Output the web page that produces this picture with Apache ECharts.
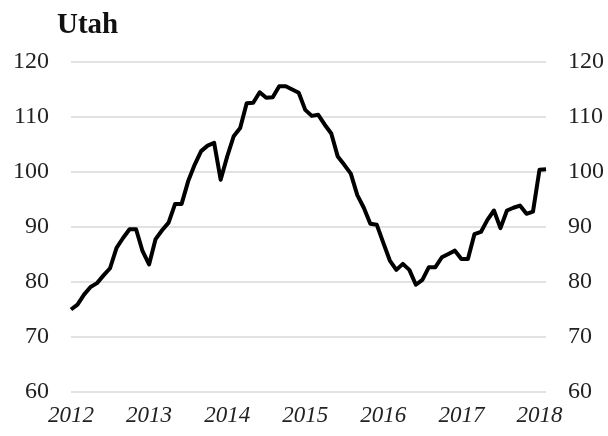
<!DOCTYPE html>
<html>
<head>
<meta charset="utf-8">
<script src="https://cdn.jsdelivr.net/npm/echarts@6/dist/echarts.min.js"></script>
<style>
  html, body { margin: 0; padding: 0; background: #fff; }
  #chart { width: 608px; height: 436px; }
</style>
</head>
<body>
<div id="chart"></div>
<script>
// monthly index, Jan 2012 .. Feb 2018
var months = [];
for (var y = 2012; y <= 2018; y++) {
  for (var m = 1; m <= 12; m++) {
    if (y === 2018 && m > 2) break;
    months.push(y + '-' + (m < 10 ? '0' + m : m));
  }
}
var values = [
  75.0, 75.9, 77.7, 79.1, 79.8, 81.2, 82.5, 86.2, 88.0, 89.6, 89.6, 85.6,
  83.2, 87.8, 89.4, 90.8, 94.2, 94.2, 98.3, 101.3, 103.8, 104.8, 105.3, 98.6,
  102.8, 106.5, 108.0, 112.5, 112.6, 114.5, 113.5, 113.6, 115.6, 115.6, 115.0, 114.4,
  111.3, 110.2, 110.4, 108.6, 107.0, 102.8, 101.3, 99.7, 95.8, 93.5, 90.6, 90.4,
  87.1, 83.9, 82.2, 83.3, 82.2, 79.5, 80.4, 82.7, 82.7, 84.5, 85.1, 85.7,
  84.2, 84.2, 88.7, 89.1, 91.3, 93.0, 89.8, 93.0, 93.5, 93.9, 92.4, 92.8,
  100.4, 100.5
];
var yTicks = [60, 70, 80, 90, 100, 110, 120];

(function () {
  var font = '"Liberation Serif", "DejaVu Serif", serif';
  var ink = '#222';
  var chart = echarts.init(document.getElementById('chart'), null, { renderer: 'canvas' });

  function yAxis(pos) {
    return {
      type: 'value',
      position: pos,
      min: yTicks[0],
      max: yTicks[yTicks.length - 1],
      interval: 10,
      axisLine: { show: false },
      axisTick: { show: false },
      axisLabel: { color: ink, fontFamily: font, fontSize: 24, margin: 22 },
      splitLine: { show: pos === 'left', lineStyle: { color: '#d9d9d9', width: 1.5 } }
    };
  }

  chart.setOption({
    animation: false,
    title: {
      text: 'Utah',
      left: 52,
      top: 6,
      textStyle: { fontFamily: font, fontWeight: 'bold', fontSize: 29, color: '#111' }
    },
    grid: { left: 71, right: 62, top: 62, bottom: 44 },
    xAxis: {
      type: 'category',
      data: months,
      boundaryGap: false,
      axisLine: { show: false },
      axisTick: { show: false },
      axisLabel: {
        interval: 11,
        color: ink,
        fontFamily: font,
        fontStyle: 'italic',
        fontSize: 23,
        margin: 12,
        formatter: function (v) { return v.slice(0, 4); }
      }
    },
    yAxis: [yAxis('left'), yAxis('right')],
    series: [{
      type: 'line',
      data: values,
      showSymbol: false,
      lineStyle: { color: '#000', width: 4, join: 'round' }
    }]
  });
})();
</script>
</body>
</html>
